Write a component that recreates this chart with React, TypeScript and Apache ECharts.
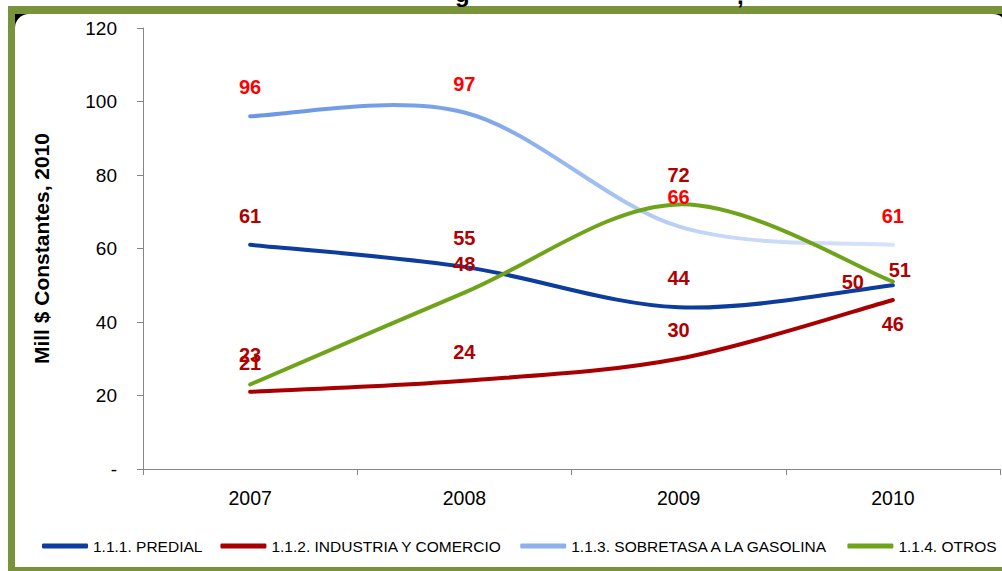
import React, { useEffect, useRef } from "react";
import * as echarts from "echarts";

const years = ["2007", "2008", "2009", "2010"];
const predial = [61, 55, 44, 50];
const industria = [21, 24, 30, 46];
const sobretasa = [96, 97, 66, 61];
const otros = [23, 48, 72, 51];
const seriesNames = [
  "1.1.1. PREDIAL",
  "1.1.2. INDUSTRIA Y COMERCIO",
  "1.1.3. SOBRETASA A LA GASOLINA",
  "1.1.4. OTROS",
];
const yTicks = [0, 20, 40, 60, 80, 100, 120];

const DARK_RED = "#B00000";
const BRIGHT_RED = "#FF0000";
const FONT = "'Liberation Sans', Arial, sans-serif";

// label centre offsets (px) relative to each point
const ABOVE = [0, -29];
const predialLabelOffsets = [ABOVE, ABOVE, ABOVE, [-40, -3]];
const industriaLabelOffsets = [ABOVE, ABOVE, ABOVE, [0, 24]];
const sobretasaLabelOffsets = [ABOVE, ABOVE, ABOVE, ABOVE];
const otrosLabelOffsets = [ABOVE, ABOVE, ABOVE, [7, -12]];

function splinePath(pts: number[][]) {
  // Catmull-Rom style spline converted to cubic Bezier segments
  let d = `M${pts[0][0]},${pts[0][1]}`;
  for (let i = 0; i < pts.length - 1; i++) {
    const p0 = pts[i - 1] || pts[i];
    const p1 = pts[i];
    const p2 = pts[i + 1];
    const p3 = pts[i + 2] || pts[i + 1];
    const c1x = p1[0] + (p2[0] - p0[0]) / 6;
    const c1y = p1[1] + (p2[1] - p0[1]) / 6;
    const c2x = p2[0] - (p3[0] - p1[0]) / 6;
    const c2y = p2[1] - (p3[1] - p1[1]) / 6;
    d += ` C${c1x},${c1y} ${c2x},${c2y} ${p2[0]},${p2[1]}`;
  }
  return d;
}

export default function App() {
  const ref = useRef<HTMLDivElement>(null);

  useEffect(() => {
    if (!ref.current) return;
    const chart = echarts.init(ref.current, undefined, { renderer: "svg" });

    const mkSeries = (
      name: string,
      values: number[],
      stroke: any,
      legendColor: string,
      labelColor: string,
      offsets: number[][]
    ) => ({
      name,
      type: "custom",
      coordinateSystem: "cartesian2d",
      data: values.map((v, i) => [i, v]),
      itemStyle: { color: legendColor },
      clip: false,
      renderItem: (params: any, api: any) => {
        const idx = params.dataIndex;
        const pts = values.map((v, i) => api.coord([i, v]));
        const children: any[] = [];
        if (idx === 0) {
          children.push({
            type: "path",
            shape: { pathData: splinePath(pts) },
            style: { fill: "none", stroke, lineWidth: 4, lineCap: "round", lineJoin: "round" },
            z2: 1,
          });
        }
        const p = pts[idx];
        const o = offsets[idx];
        children.push({
          type: "text",
          x: p[0] + o[0],
          y: p[1] + o[1],
          style: {
            text: String(values[idx]),
            fill: labelColor,
            fontFamily: FONT,
            fontWeight: "bold",
            fontSize: 20,
            align: "center",
            verticalAlign: "middle",
          },
          z2: 100,
        });
        return { type: "group", children };
      },
    });

    const sobretasaStroke = {
      type: "linear",
      x: 0,
      y: 0,
      x2: 1,
      y2: 0,
      colorStops: [
        { offset: 0, color: "#6A96E4" },
        { offset: 0.35, color: "#7DA5EA" },
        { offset: 0.72, color: "#C5D7F6" },
        { offset: 1, color: "#D6E3F9" },
      ],
    };

    chart.setOption({
      animation: false,
      backgroundColor: "#ffffff",
      textStyle: { fontFamily: FONT },
      grid: { left: 143, right: 2, top: 28, bottom: 102, containLabel: false },
      xAxis: {
        type: "category",
        data: years,
        boundaryGap: true,
        axisLine: { show: true, lineStyle: { color: "#868686", width: 1 } },
        axisTick: { show: true, interval: 0, length: 6, lineStyle: { color: "#868686" } },
        axisLabel: { color: "#000", fontSize: 19.5, fontFamily: FONT, margin: 19 },
        splitLine: { show: false },
      },
      yAxis: {
        type: "value",
        min: yTicks[0],
        max: yTicks[yTicks.length - 1],
        interval: 20,
        name: "Mill $ Constantes, 2010",
        nameLocation: "middle",
        nameRotate: 90,
        nameGap: 91,
        nameTextStyle: { color: "#000", fontSize: 21, fontWeight: "bold", fontFamily: FONT },
        axisLine: { show: true, lineStyle: { color: "#868686", width: 1 } },
        axisTick: { show: true, length: 6, lineStyle: { color: "#868686" } },
        axisLabel: {
          color: "#000",
          fontSize: 19,
          fontFamily: FONT,
          margin: 26,
          formatter: (v: number) => (v === 0 ? "-" : String(v)),
        },
        splitLine: { show: false },
      },
      legend: {
        data: seriesNames,
        left: 37,
        top: 533,
        width: 990,
        icon: "roundRect",
        itemWidth: 46,
        itemHeight: 5,
        itemGap: 18,
        textStyle: { color: "#000", fontSize: 15.5, fontFamily: FONT },
      },
      graphic: [
        { type: "rect", z: -10, silent: true, shape: { x: 8, y: 6, width: 1100, height: 700 }, style: { fill: "#79933B" } },
        { type: "rect", z: -9, silent: true, shape: { x: 15, y: 14, width: 16, height: 16 }, style: { fill: "#000" } },
        { type: "rect", z: -9, silent: true, shape: { x: 990, y: 14, width: 20, height: 16 }, style: { fill: "#000" } },
        { type: "rect", z: -8, silent: true, shape: { x: 15, y: 14, width: 992, height: 553, r: [14, 14, 0, 0] }, style: { fill: "#fff" } },
        { type: "text", z: -7, silent: true, x: 455, y: 5, style: { text: "g", fill: "#000", font: "bold 24px " + FONT, verticalAlign: "bottom" } },
        { type: "text", z: -7, silent: true, x: 737, y: 7, style: { text: ",", fill: "#000", font: "bold 24px " + FONT, verticalAlign: "bottom" } },
      ],
      series: [
        mkSeries(seriesNames[0], predial, "#0B3C9E", "#0B3C9E", DARK_RED, predialLabelOffsets),
        mkSeries(seriesNames[1], industria, "#A80000", "#A80000", DARK_RED, industriaLabelOffsets),
        mkSeries(seriesNames[2], sobretasa, sobretasaStroke, "#8DB0EE", BRIGHT_RED, sobretasaLabelOffsets),
        mkSeries(seriesNames[3], otros, "#6FA31A", "#6FA31A", DARK_RED, otrosLabelOffsets),
      ],
    });

    return () => chart.dispose();
  }, []);

  return (
    <div
      ref={ref}
      style={{ position: "fixed", left: 0, top: 0, width: 1002, height: 571 }}
    />
  );
}
